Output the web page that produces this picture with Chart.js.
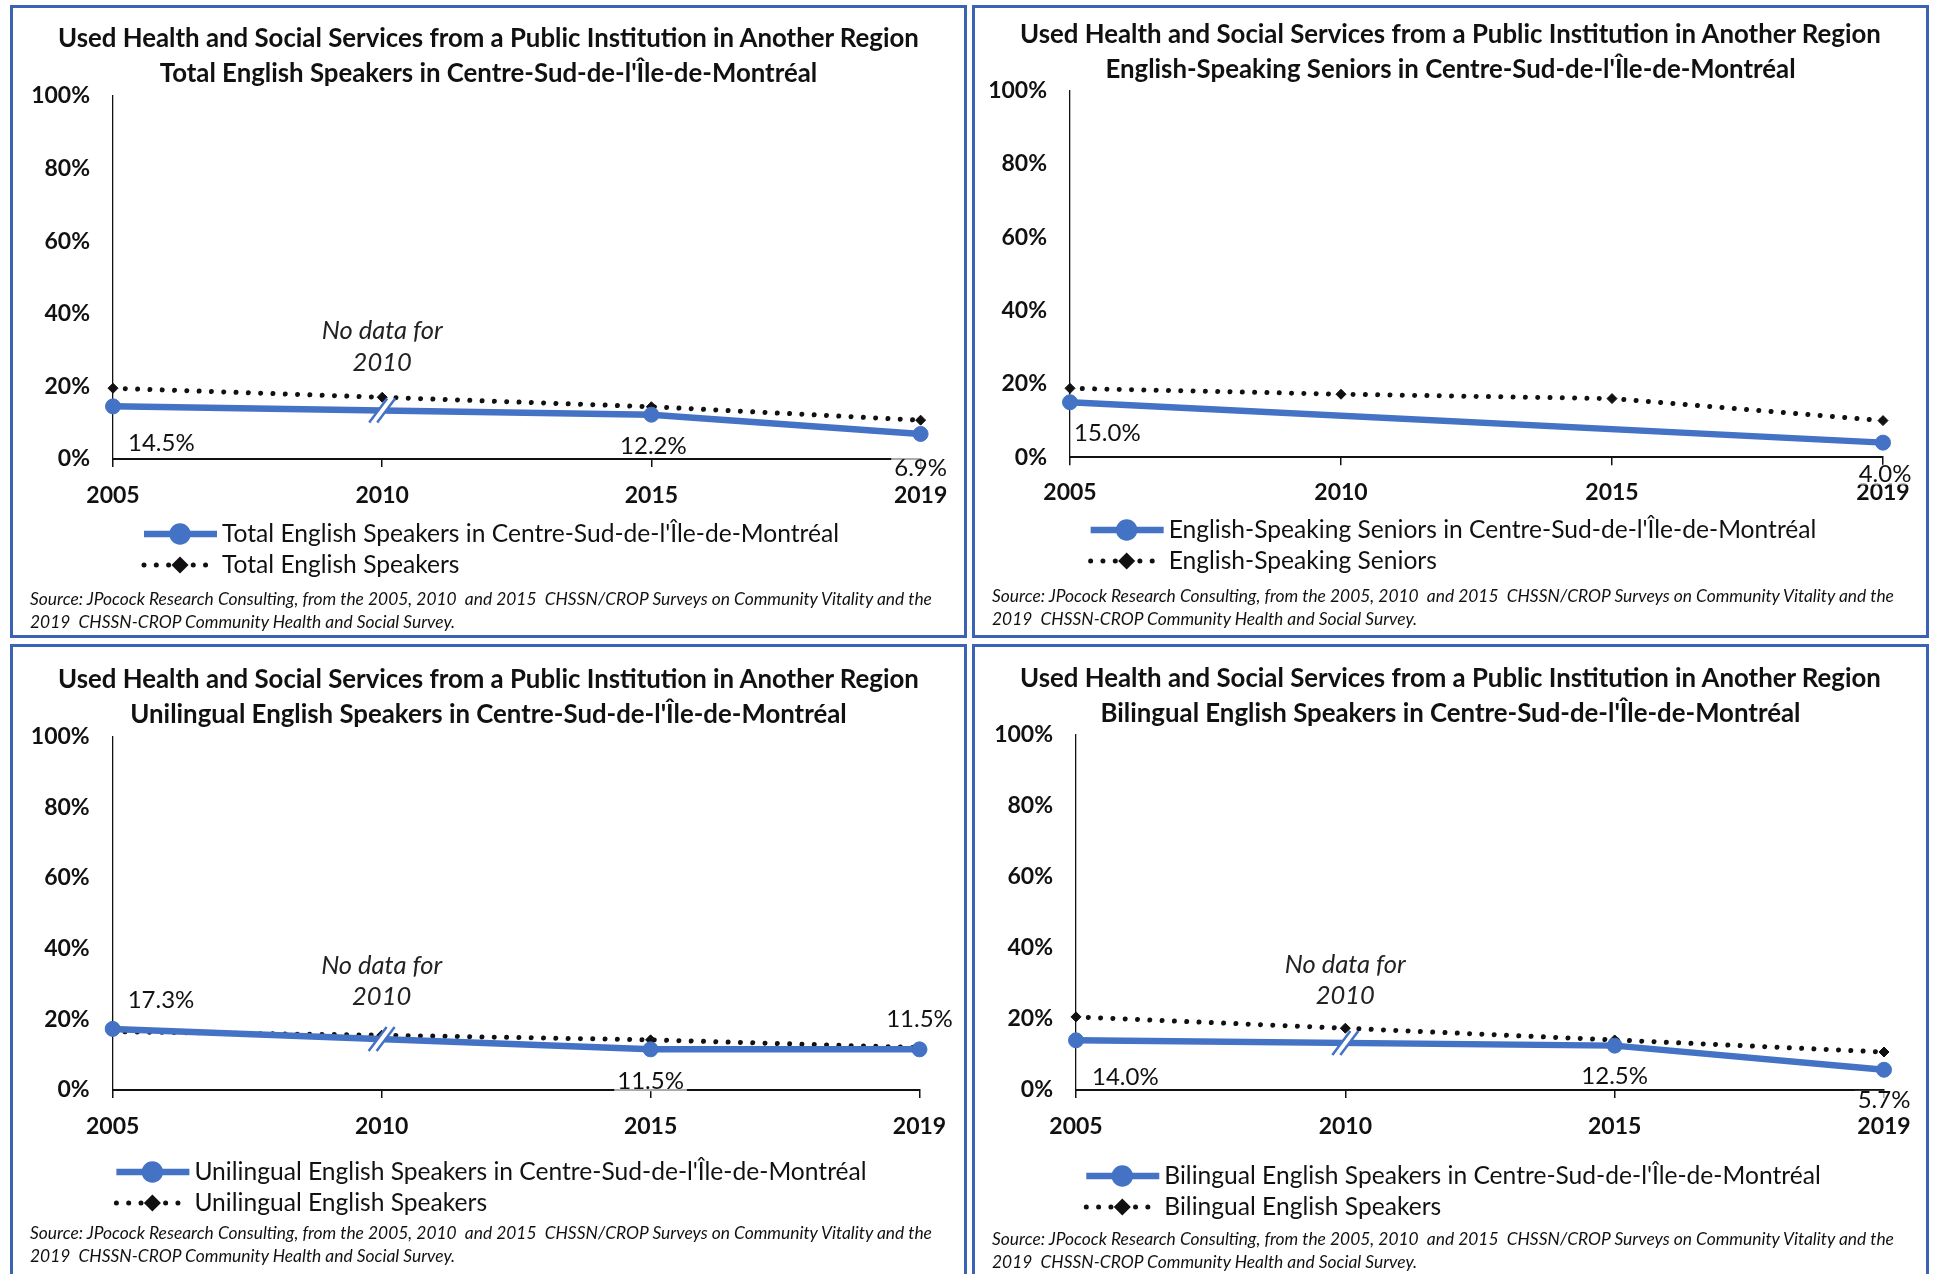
<!DOCTYPE html>
<html>
<head>
<meta charset="utf-8">
<script src="https://cdn.jsdelivr.net/npm/chart.js@4.4.1/dist/chart.umd.min.js"></script>
<style>
    body { margin: 0; width: 1935px; height: 1274px; overflow: hidden; background: #fff; font-family: Lato, "Liberation Sans", sans-serif; color: #111; }
    .panel { position: absolute; box-sizing: border-box; width: 957px; border: 3px solid #3a62b5; background: #fff; }
    .panel canvas { position: absolute; left: 0; top: 0; display: block; }
    .title { position: absolute; left: 0; right: 0; text-align: center; font-weight: bold; font-size: 25.8px; line-height: 35px; white-space: nowrap; }
    .source { position: absolute; left: 17px; font-style: italic; font-size: 17.4px; line-height: 23px; white-space: pre; }
</style>
</head>
<body>
<script>
const years = ['2005', '2010', '2015', '2019'];

const mainTitle = 'Used Health and Social Services from a Public Institution in Another Region';
const sourceLines = [
    'Source: JPocock Research Consulting, from the 2005, 2010  and 2015  CHSSN/CROP Surveys on Community Vitality and the',
    '2019  CHSSN-CROP Community Health and Social Survey.'
];
const noDataNote = ['No data for', '2010'];

// regional series (blue) and comparison series (dotted)
const totalRegion = [14.5, null, 12.2, 6.9];
const totalAll = [19.5, 17.0, 14.4, 10.7];
const seniorsRegion = [15.0, null, null, 4.0];
const seniorsAll = [18.8, 17.2, 16.0, 10.0];
const unilingualRegion = [17.3, null, 11.5, 11.5];
const unilingualAll = [16.5, 15.5, 14.2, 12.0];
const bilingualRegion = [14.0, null, 12.5, 5.7];
const bilingualAll = [20.6, 17.4, 14.1, 10.7];

const blue = '#4472C4';
const ink = '#111111';
const family = 'Lato, "Liberation Sans", sans-serif';

const panels = [
    {
        left: 10, top: 5, height: 633,
        subtitle: "Total English Speakers in Centre-Sud-de-l'Île-de-Montréal",
        names: ["Total English Speakers in Centre-Sud-de-l'Île-de-Montréal", 'Total English Speakers'],
        region: totalRegion, all: totalAll,
        area: { left: 100, right: 907.6, top: 88, bottom: 451 },
        titleTop: 11.5, sourceTop: 579, legendY: [526, 557], tickPad: 15,
        breakAt: 1, note: true,
        labels: [{ dx: 15, dy: 37, align: 'left' }, null, { dx: 2, dy: 32 }, { dx: 0, dy: 34 }]
    },
    {
        left: 972, top: 5, height: 633,
        subtitle: "English-Speaking Seniors in Centre-Sud-de-l'Île-de-Montréal",
        names: ["English-Speaking Seniors in Centre-Sud-de-l'Île-de-Montréal", 'English-Speaking Seniors'],
        region: seniorsRegion, all: seniorsAll,
        area: { left: 95, right: 908, top: 82.5, bottom: 449.3 },
        titleTop: 7.5, sourceTop: 576, legendY: [522, 553], tickPad: 13,
        breakAt: null, note: false,
        labels: [{ dx: 4, dy: 31, align: 'left' }, null, null, { dx: 2, dy: 32 }]
    },
    {
        left: 10, top: 644, height: 640,
        subtitle: "Unilingual English Speakers in Centre-Sud-de-l'Île-de-Montréal",
        names: ["Unilingual English Speakers in Centre-Sud-de-l'Île-de-Montréal", 'Unilingual English Speakers'],
        region: unilingualRegion, all: unilingualAll,
        area: { left: 99.7, right: 906.5, top: 89.7, bottom: 443 },
        titleTop: 13.5, sourceTop: 574, legendY: [525, 556], tickPad: 15,
        breakAt: 1, note: true,
        labels: [{ dx: 15, dy: -29, align: 'left' }, null, { dx: 0, dy: 32 }, { dx: 0, dy: -30 }]
    },
    {
        left: 972, top: 644, height: 640,
        subtitle: "Bilingual English Speakers in Centre-Sud-de-l'Île-de-Montréal",
        names: ["Bilingual English Speakers in Centre-Sud-de-l'Île-de-Montréal", 'Bilingual English Speakers'],
        region: bilingualRegion, all: bilingualAll,
        area: { left: 101, right: 909, top: 88, bottom: 443 },
        titleTop: 12.5, sourceTop: 580, legendY: [529, 560], tickPad: 15,
        breakAt: 1, note: true,
        labels: [{ dx: 16, dy: 37, align: 'left' }, null, { dx: 0, dy: 31 }, { dx: 0, dy: 31 }]
    }
];

// break mark on the blue line, data labels, the 2010 note and the legend
const panelText = {
    id: 'panelText',
    afterDatasetsDraw(chart, args, opts) {
        if (opts.breakAt == null) return;
        const meta = chart.getDatasetMeta(0);
        const a = meta.data[opts.breakAt - 1];
        const b = meta.data[opts.breakAt + 1];
        const x = chart.scales.x.getPixelForValue(opts.breakAt);
        const y = a.y + (b.y - a.y) * (x - a.x) / (b.x - a.x);
        const ctx = chart.ctx;
        ctx.save();
        ctx.translate(x, y);
        ctx.fillStyle = '#fff';
        ctx.beginPath();
        ctx.moveTo(-13, 12); ctx.lineTo(5, -12); ctx.lineTo(13, -12); ctx.lineTo(-5, 12);
        ctx.closePath();
        ctx.fill();
        ctx.strokeStyle = blue;
        ctx.lineWidth = 2.5;
        ctx.beginPath();
        ctx.moveTo(-13, 12); ctx.lineTo(5, -12);
        ctx.moveTo(-5, 12); ctx.lineTo(13, -12);
        ctx.stroke();
        ctx.restore();
    },
    afterDraw(chart, args, opts) {
        const ctx = chart.ctx;
        const meta = chart.getDatasetMeta(0);
        const values = chart.data.datasets[0].data;
        ctx.save();
        ctx.textBaseline = 'middle';

        ctx.font = `24px ${family}`;
        opts.labels.forEach((pos, i) => {
            if (!pos || values[i] == null) return;
            const pt = meta.data[i];
            const text = values[i].toFixed(1) + '%';
            const w = ctx.measureText(text).width;
            const cx = pos.align === 'left' ? pt.x + pos.dx + w / 2 : pt.x + pos.dx;
            const cy = pt.y + pos.dy;
            ctx.fillStyle = 'rgba(255,255,255,0.65)';
            ctx.fillRect(cx - w / 2 - 3, cy - 10, w + 6, 20);
            ctx.fillStyle = ink;
            ctx.textAlign = 'center';
            ctx.fillText(text, cx, cy);
        });

        if (opts.note) {
            const x = chart.scales.x.getPixelForValue(1);
            ctx.font = `italic 25.5px ${family}`;
            ctx.fillStyle = '#222';
            ctx.textAlign = 'center';
            ctx.fillText(noDataNote[0], x, chart.scales.y.getPixelForValue(35.2));
            ctx.fillText(noDataNote[1], x, chart.scales.y.getPixelForValue(26.5));
        }

        const sets = chart.data.datasets;
        ctx.font = `24.6px ${family}`;
        const rowW = Math.max(...sets.map(d => ctx.measureText(d.label).width)) + 80;
        const x0 = chart.width / 2 - rowW / 2 + 4;
        sets.forEach((d, i) => {
            const y = opts.legendY[i];
            ctx.save();
            ctx.strokeStyle = d.borderColor;
            ctx.lineWidth = d.borderWidth;
            ctx.lineCap = d.borderCapStyle || 'butt';
            ctx.setLineDash(d.borderDash || []);
            ctx.beginPath();
            ctx.moveTo(x0, y);
            ctx.lineTo(x0 + 73, y);
            ctx.stroke();
            ctx.setLineDash([]);
            ctx.fillStyle = d.pointBackgroundColor;
            ctx.strokeStyle = d.pointBorderColor;
            Chart.helpers.drawPoint(ctx, { pointStyle: d.pointStyle, radius: d.pointRadius, borderWidth: 1, rotation: 0 }, x0 + 36, y);
            ctx.restore();
            ctx.fillStyle = ink;
            ctx.textAlign = 'left';
            ctx.fillText(d.label, x0 + 78, y);
        });
        ctx.restore();
    }
};

function buildPanel(cfg) {
    const box = document.createElement('div');
    box.className = 'panel';
    box.style.left = cfg.left + 'px';
    box.style.top = cfg.top + 'px';
    box.style.height = cfg.height + 'px';

    const canvas = document.createElement('canvas');
    canvas.width = 951;
    canvas.height = 595;
    box.appendChild(canvas);

    const title = document.createElement('div');
    title.className = 'title';
    title.style.top = cfg.titleTop + 'px';
    title.innerHTML = mainTitle + '<br>' + cfg.subtitle;
    box.appendChild(title);

    const source = document.createElement('div');
    source.className = 'source';
    source.style.top = cfg.sourceTop + 'px';
    source.textContent = sourceLines.join('\n');
    box.appendChild(source);

    document.body.appendChild(box);

    const area = cfg.area;
    const tickFont = { family: family, size: 23, weight: 'bold' };

    new Chart(canvas, {
        type: 'line',
        data: {
            labels: years,
            datasets: [
                {
                    label: cfg.names[0],
                    data: cfg.region,
                    borderColor: blue,
                    backgroundColor: blue,
                    borderWidth: 6.5,
                    pointStyle: 'circle',
                    pointRadius: 7.5,
                    pointBackgroundColor: blue,
                    pointBorderColor: blue,
                    pointBorderWidth: 1,
                    spanGaps: true,
                    tension: 0,
                    clip: false
                },
                {
                    label: cfg.names[1],
                    data: cfg.all,
                    borderColor: ink,
                    backgroundColor: ink,
                    borderWidth: 5,
                    borderDash: [0.01, 12.3],
                    borderCapStyle: 'round',
                    pointStyle: 'rectRot',
                    pointRadius: 5,
                    pointBackgroundColor: ink,
                    pointBorderColor: ink,
                    pointBorderWidth: 1,
                    tension: 0,
                    clip: false
                }
            ]
        },
        options: {
            responsive: false,
            animation: false,
            layout: {
                padding: { left: 0, top: area.top, right: canvas.width - area.right, bottom: canvas.height - area.bottom - 50 }
            },
            plugins: {
                legend: { display: false },
                title: { display: false },
                tooltip: { enabled: false },
                panelText: { breakAt: cfg.breakAt, note: cfg.note, labels: cfg.labels, legendY: cfg.legendY }
            },
            scales: {
                x: {
                    grid: { display: true, drawOnChartArea: false, drawTicks: true, tickLength: 8, color: ink, lineWidth: 1.5 },
                    border: { display: true, color: ink, width: 2 },
                    ticks: { font: tickFont, color: ink, padding: cfg.tickPad, maxRotation: 0, autoSkip: false },
                    afterFit: s => { s.height = 50; }
                },
                y: {
                    min: 0,
                    max: 100,
                    grid: { display: false, drawTicks: false },
                    border: { display: true, color: ink, width: 1.3 },
                    ticks: { stepSize: 20, callback: v => v + '%', font: tickFont, color: ink, padding: 23 },
                    afterFit: s => { s.width = area.left; }
                }
            }
        },
        plugins: [panelText]
    });
}

panels.forEach(buildPanel);
</script>
</body>
</html>
